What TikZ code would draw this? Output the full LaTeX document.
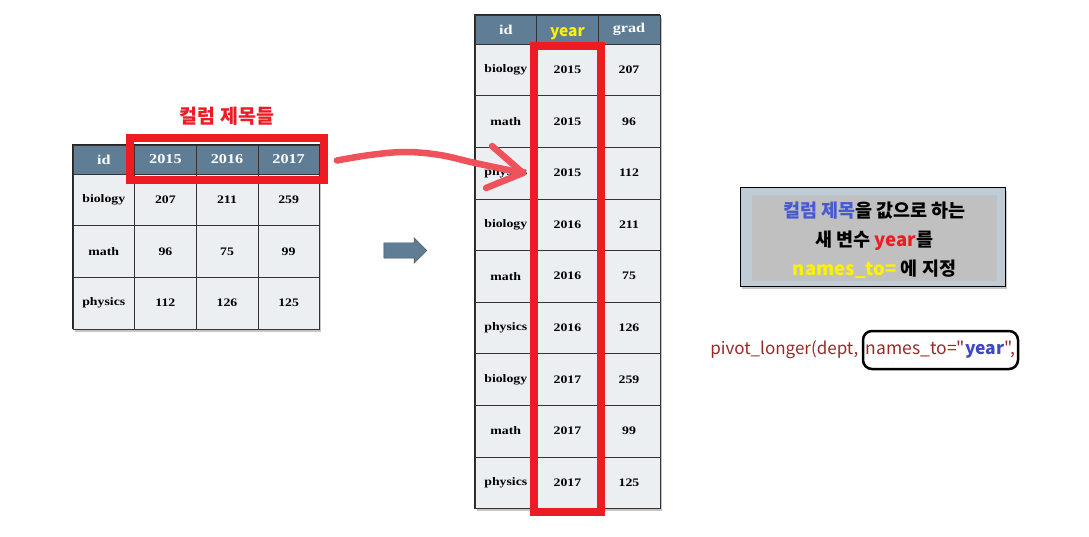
\documentclass[tikz,border=0pt]{standalone}
\usepackage{fontspec}
\setmainfont{Liberation Serif}
\newfontfamily\tabfont[FakeStretch=1.2]{Liberation Serif}
\newfontfamily\kor{Noto Sans CJK KR}
\usetikzlibrary{shapes, shapes.arrows, calc, positioning, fit, shadows, backgrounds}

\definecolor{hdrblue}{RGB}{95,125,149}
\definecolor{cellgray}{RGB}{236,239,242}
\definecolor{markred}{RGB}{237,28,36}
\definecolor{penred}{RGB}{240,82,92}
\definecolor{boxblue}{RGB}{191,204,214}
\definecolor{boxgray}{RGB}{192,192,192}
\definecolor{codered}{RGB}{155,40,40}
\definecolor{codeblue}{RGB}{64,72,200}
\definecolor{lblue}{RGB}{72,90,210}

\begin{document}
\begin{tikzpicture}[x=1pt, y=-1pt, >=latex,
  head/.style={draw=black!80, fill=hdrblue, text=white,
    font=\tabfont\bfseries\fontsize{13.5}{14}\selectfont,
    minimum width=61.6pt, minimum height=29pt, inner sep=0pt, outer sep=0pt,
    anchor=north west},
  cell/.style={draw=black!80, fill=cellgray,
    font=\tabfont\bfseries\fontsize{11.5}{12}\selectfont,
    minimum width=61.6pt, minimum height=51.6pt, inner sep=0pt, outer sep=0pt,
    anchor=north west},
  frame/.style={draw=black!85, line width=1.2pt, fill=white, inner sep=0pt,
    drop shadow={shadow xshift=2pt, shadow yshift=-3pt, opacity=.45}},
  redbox/.style={draw=markred, line width=8pt},
  pen/.style={draw=penred, line width=6.5pt, line cap=round}
]
\useasboundingbox (0,0) rectangle (1089,537);

% wide table
\foreach \t [count=\i from 0] in {id,2015,2016,2017}
  \node[head] (lh\i) at ({73+61.6*\i}, 145) {\t};
\foreach \n/\a/\b/\c [count=\r] in {biology/207/211/259, math/96/75/99, physics/112/126/125} {
  \node[cell] (l\r0) at (73, {174+51.6*(\r-1)}) {\n};
  \node[cell, right=0pt of l\r0] (l\r1) {\a};
  \node[cell, right=0pt of l\r1] (l\r2) {\b};
  \node[cell, right=0pt of l\r2] (l\r3) {\c};
}
\begin{scope}[on background layer]
  \node[frame, fit=(lh0)(l33)] (widetab) {};
\end{scope}

\node[redbox, fit=(lh1)(lh3), inner xsep=4.5pt, inner ysep=6.5pt] (colbox) {};
\node[font=\kor\bfseries\fontsize{19.5}{19.5}\selectfont, text=markred,
  above=6pt of colbox] (coltitle) {컬럼 제목들};

% long table
\node[head] (rh0) at (475, 15) {id};
\node[head, right=0pt of rh0, text=yellow, text height=15pt, text depth=0pt,
  font=\kor\bfseries\fontsize{15.5}{15.5}\selectfont] (rh1) {year};
\node[head, right=0pt of rh1] (rh2) {grad};
\foreach \n/\y/\g [count=\r] in {biology/2015/207, math/2015/96, physics/2015/112,
    biology/2016/211, math/2016/75, physics/2016/126,
    biology/2017/259, math/2017/99, physics/2017/125} {
  \node[cell] (r\r0) at (475, {44+51.6*(\r-1)}) {\n};
  \node[cell, right=0pt of r\r0] (r\r1) {\y};
  \node[cell, right=0pt of r\r1] (r\r2) {\g};
}
\begin{scope}[on background layer]
  \node[frame, fit=(rh0)(r92)] (longtab) {};
\end{scope}

\node[redbox, fit=(r11)(r91), inner xsep=2.7pt, inner ysep=1pt, yshift=-3pt] (yearbox) {};

% hand drawn arrow
\coordinate (penstart) at ($(colbox.east)+(9,1)$);
\coordinate (pentip) at (523,173);
\coordinate (barbup) at (492,146);
\coordinate (barblow) at (486,188);
\draw[pen] plot[smooth, tension=.6] coordinates
  {(penstart) (370,155) (405,152) (440,155) (475,163) (pentip)};
\draw[pen] (barbup) -- (pentip);
\draw[pen] (barblow) -- (pentip);

\node[single arrow, draw=black!70, fill=hdrblue, minimum height=43pt,
  inner xsep=0pt, inner ysep=7.5pt, single arrow head extend=5pt,
  single arrow head indent=0pt] (go) at (401.5,250.5) {};

% note
\node[draw=black, line width=1pt, fill=boxblue, minimum width=265pt, minimum height=98pt,
  drop shadow={shadow xshift=2pt, shadow yshift=-3pt, opacity=.45}] (notebox) at (872.5,237) {};
\node[fill=boxgray, minimum width=245pt, minimum height=86pt, inner sep=0pt] (noteinner) at (874.5,238) {};
\node[align=center, font=\kor\bfseries\fontsize{18.5}{29}\selectfont] (notetext) at (874.5,240)
  {\textcolor{lblue}{컬럼 제목}을 값으로 하는\\
   새 변수 \textcolor{markred}{year}를\\
   \textcolor{yellow}{names\_to=} 에 지정};

% code
\node[draw=black, line width=2.5pt, rounded corners=9pt, minimum width=155pt,
  minimum height=38pt, inner sep=2pt, text=codered,
  font=\kor\fontsize{17.5}{17.5}\selectfont] (namesarg) at (940.5,350)
  {names\_to="\textcolor{codeblue}{\bfseries year}",};
\node[text=codered, font=\kor\fontsize{17}{17}\selectfont,
  base left=0pt of namesarg] (pivotcall) {pivot\_longer(dept,};

\end{tikzpicture}
\end{document}
